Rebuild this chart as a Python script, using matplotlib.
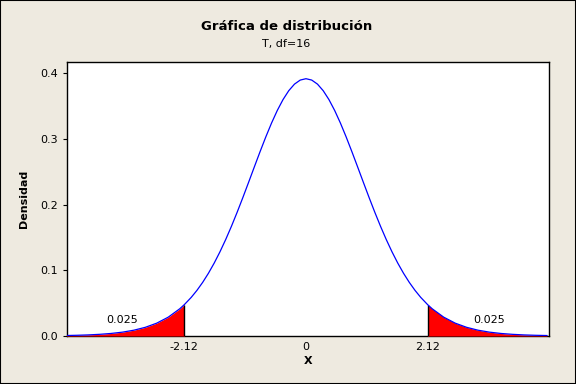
import matplotlib
matplotlib.use("Agg")
import matplotlib.pyplot as plt
from matplotlib.patches import Rectangle
import numpy as np

# density curve (T, df=16)
x_vals = [-4.2, -4.0, -3.8, -3.6, -3.4, -3.2, -3.0, -2.8, -2.6, -2.4, -2.2, -2.12,
          -2.0, -1.9, -1.8, -1.7, -1.6, -1.5, -1.4, -1.3, -1.2, -1.1, -1.0,
          -0.9, -0.8, -0.7, -0.6, -0.5, -0.4, -0.3, -0.2, -0.1, 0.0,
          0.1, 0.2, 0.3, 0.4, 0.5, 0.6, 0.7, 0.8, 0.9, 1.0,
          1.1, 1.2, 1.3, 1.4, 1.5, 1.6, 1.7, 1.8, 1.9, 2.0,
          2.12, 2.2, 2.4, 2.6, 2.8, 3.0, 3.2, 3.4, 3.6, 3.8, 4.0, 4.2]
dens = [0.00071, 0.00108, 0.00165, 0.00253, 0.00385, 0.00584, 0.00882, 0.01321,
        0.01958, 0.02869, 0.04142, 0.04775,
        0.05876, 0.06947, 0.08168, 0.09548, 0.11090, 0.12798, 0.14664, 0.16679,
        0.18824, 0.21073, 0.23391,
        0.25736, 0.28059, 0.30302, 0.32412, 0.34325, 0.35984, 0.37337, 0.38338,
        0.38953, 0.39160,
        0.38953, 0.38338, 0.37337, 0.35984, 0.34325, 0.32412, 0.30302, 0.28059,
        0.25736, 0.23391,
        0.21073, 0.18824, 0.16679, 0.14664, 0.12798, 0.11090, 0.09548, 0.08168,
        0.06947, 0.05876,
        0.04775, 0.04142, 0.02869, 0.01958, 0.01321, 0.00882, 0.00584, 0.00385,
        0.00253, 0.00165, 0.00108, 0.00071]

crit = 2.12
tail_area = "0.025"
x_ticks = [-2.12, 0, 2.12]
x_ticklabels = ["-2.12", "0", "2.12"]
y_ticks = [0.0, 0.1, 0.2, 0.3, 0.4]

bg = "#EEEAE0"

x = np.array(x_vals)
y = np.array(dens)

fig = plt.figure(figsize=(5.76, 3.84), dpi=100, facecolor=bg)
ax = fig.add_axes([0.1158, 0.125, 0.8368, 0.7135])
ax.set_facecolor("white")

# shaded tails
left = x <= -crit
right = x >= crit
ax.fill_between(x[left], 0, y[left], color="red", lw=0, zorder=3)
ax.fill_between(x[right], 0, y[right], color="red", lw=0, zorder=3)
y_crit = y[x == crit][0]
ax.vlines([-crit, crit], 0, y_crit, colors="black", lw=1, zorder=4)

ax.plot(x, y, color="blue", lw=0.9, zorder=5)

ax.text(-3.2, 0.0244, tail_area, ha="center", va="center", fontsize=8)
ax.text(3.2, 0.0244, tail_area, ha="center", va="center", fontsize=8)

ax.set_xlim(-4.17, 4.23)
ax.set_ylim(0, 0.417)
ax.set_xticks(x_ticks)
ax.set_xticklabels(x_ticklabels)
ax.set_yticks(y_ticks)
ax.set_yticklabels([f"{v:.1f}" for v in y_ticks])
ax.tick_params(axis="x", length=0, pad=4.5, labelsize=8)
ax.tick_params(axis="y", length=3, width=0.8, pad=3.5, labelsize=8)
for s in ax.spines.values():
    s.set_linewidth(1)
    s.set_color("black")

ax.set_xlabel("X", fontsize=8, fontweight="bold", labelpad=3)
ax.set_ylabel("Densidad", fontsize=8, fontweight="bold", labelpad=8)

fig.text(0.497, 0.93, "Gráfica de distribución", ha="center", va="center",
         fontsize=9.5, fontweight="bold")
fig.text(0.497, 0.885, "T, df=16", ha="center", va="center", fontsize=8)

# figure border
fig.patches.append(Rectangle((0, 0), 1, 1, transform=fig.transFigure,
                             fill=False, edgecolor="black", lw=1.5))

fig.savefig("out.png", dpi=100, facecolor=bg)
